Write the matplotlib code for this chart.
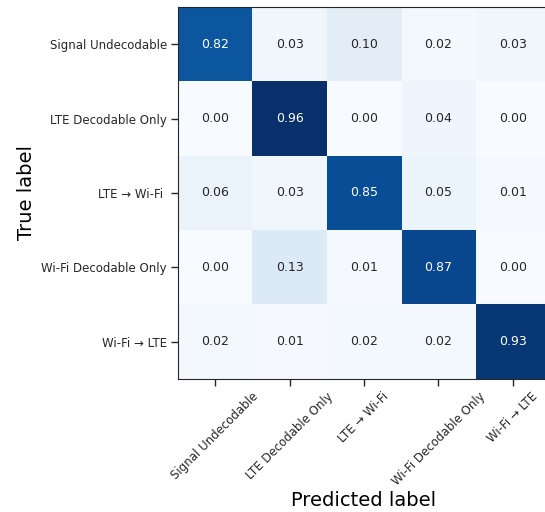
import matplotlib
matplotlib.use("Agg")
import matplotlib.pyplot as plt
import numpy as np

labels_y = ["Signal Undecodable", "LTE Decodable Only", "LTE → Wi-Fi ", "Wi-Fi Decodable Only", "Wi-Fi → LTE"]
labels_x = ["Signal Undecodable", "LTE Decodable Only", "LTE → Wi-Fi", "Wi-Fi Decodable Only", "Wi-Fi → LTE"]
row0 = [0.82, 0.03, 0.10, 0.02, 0.03]
row1 = [0.00, 0.96, 0.00, 0.04, 0.00]
row2 = [0.06, 0.03, 0.85, 0.05, 0.01]
row3 = [0.00, 0.13, 0.01, 0.87, 0.00]
row4 = [0.02, 0.01, 0.02, 0.02, 0.93]
cm = np.array([row0, row1, row2, row3, row4])

plt.rcParams['font.family'] = ['DejaVu Sans']
plt.rcParams['text.color'] = '#262626'
plt.rcParams['xtick.color'] = '#262626'
plt.rcParams['ytick.color'] = '#262626'
plt.rcParams['axes.edgecolor'] = '#262626'

fig = plt.figure(figsize=(5.45, 5.12), dpi=100)
ax = fig.add_axes([178/545, 1-379/512, 372/545, 372/512])
im = ax.imshow(cm, cmap='Blues', interpolation='nearest', aspect='auto')
thresh = cm.max() / 2
for i in range(cm.shape[0]):
    for j in range(cm.shape[1]):
        ax.text(j, i, f"{cm[i, j]:.2f}", ha='center', va='center', fontsize=9,
                color='white' if cm[i, j] > thresh else '#262626')
ax.set_xticks(range(len(labels_x)))
ax.set_yticks(range(len(labels_y)))
ax.set_xticklabels(labels_x, rotation=45, ha='center', fontsize=8.5)
ax.set_yticklabels(labels_y, fontsize=8.5)
ax.tick_params(length=5, width=1, pad=3)
ax.set_xlabel("Predicted label", fontsize=14, labelpad=2)
ax.set_ylabel("True label", fontsize=14, labelpad=4)
fig.savefig("out.png", dpi=100)
